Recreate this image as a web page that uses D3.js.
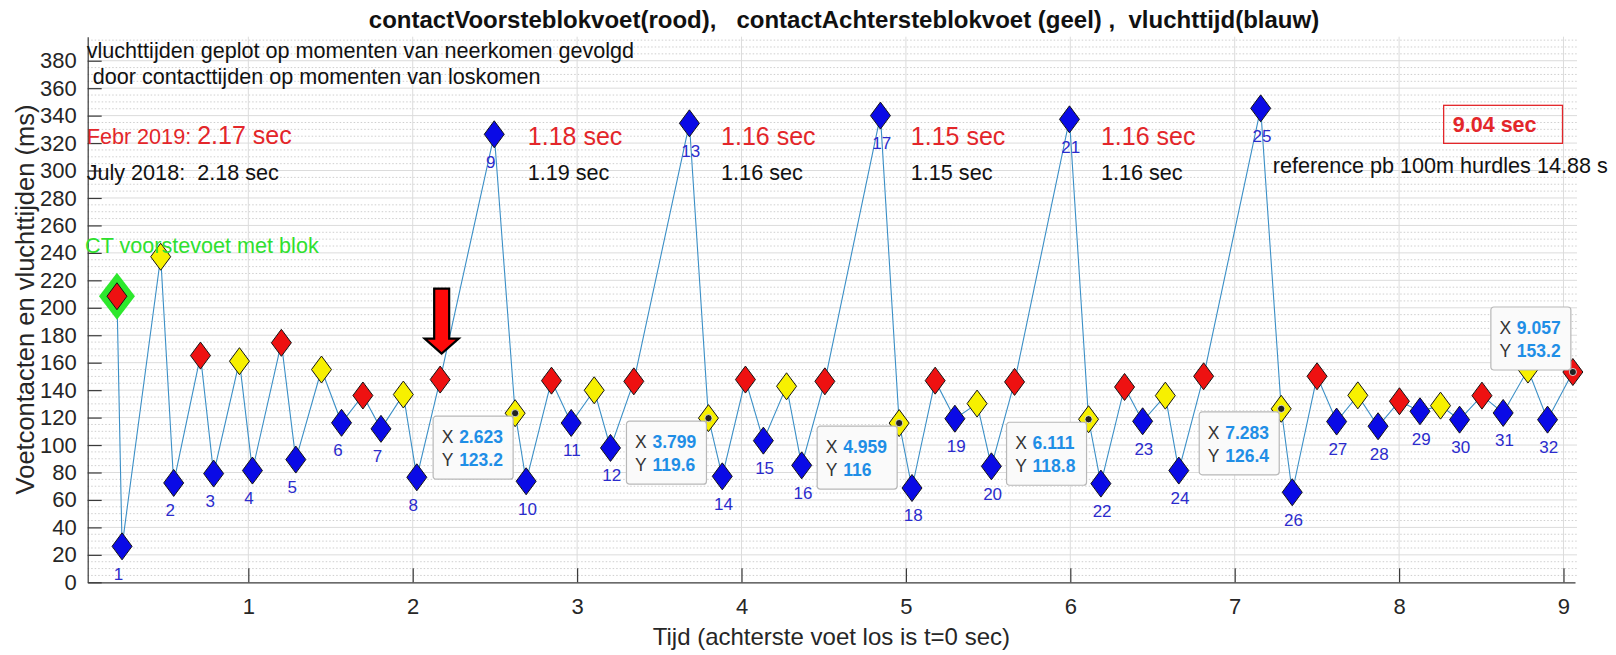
<!DOCTYPE html>
<html>
<head>
<meta charset="utf-8">
<script src="https://cdn.jsdelivr.net/npm/d3@7"></script>
<style>
  body { margin: 0; background: #fff; }
  svg { font-family: "Liberation Sans", Arial, Helvetica, sans-serif; }
  text { white-space: pre; }
</style>
</head>
<body>
<div id="chart"></div>
<script>
// contacttijd voorste voet (rood), in tijd (s) en ms
const redT = [0.201, 0.709, 1.201, 1.697, 2.167, 2.844, 3.345, 4.024, 4.507, 5.178, 5.661, 6.330, 6.811, 7.501, 8.002, 8.504, 9.057];
const redV = [208.4, 165.2, 174.5, 136.1, 147.7, 146.9, 146.4, 147.7, 146.4, 146.9, 146.0, 142.3, 150.1, 150.1, 131.9, 136.0, 153.2];

// contacttijd achterste voet (geel)
const yellowT = [0.467, 0.946, 1.445, 1.943, 2.623, 3.104, 3.799, 4.274, 4.959, 5.433, 6.111, 6.578, 7.283, 7.749, 8.252, 8.784];
const yellowV = [237.2, 161.1, 155.0, 136.8, 123.2, 139.9, 119.6, 142.8, 116, 130.2, 118.8, 136.0, 126.4, 136.2, 128.7, 155.0];

// vluchttijden (blauw)
const blueT = [0.232, 0.546, 0.789, 1.025, 1.289, 1.567, 1.807, 2.025, 2.496, 2.690, 2.964, 3.203, 3.683, 3.883, 4.133, 4.366,
               4.845, 5.037, 5.298, 5.520, 5.995, 6.186, 6.440, 6.660, 7.158, 7.350, 7.620, 7.872, 8.127, 8.368, 8.633, 8.903];
const blueV = [26.2, 72.4, 79.2, 81.4, 89.4, 116.2, 111.8, 76.5, 326.4, 73.6, 116.1, 97.9, 334.4, 77.2, 103.2, 85.2,
               340.0, 68.7, 119.2, 84.5, 337.3, 71.9, 117.3, 81.4, 345.3, 65.6, 117.1, 113.7, 124.6, 118.5, 123.4, 118.5];
const blueLabels = ["1","2","3","4","5","6","7","8","9","10","11","12","13","14","15","16",
                    "17","18","19","20","21","22","23","24","25","26","27","28","29","30","31","32"];

// datatips (index in yellow / red)
const tipYellow = [4, 6, 8, 10, 12];
const tipRed = [16];

// tijden per hordeinterval
const febrTimes = ["2.17 sec", "1.18 sec", "1.16 sec", "1.15 sec", "1.16 sec"];
const julyTimes = ["2.18 sec", "1.19 sec", "1.16 sec", "1.15 sec", "1.16 sec"];

const xTicks = [1, 2, 3, 4, 5, 6, 7, 8, 9];
const yTicks = [0, 20, 40, 60, 80, 100, 120, 140, 160, 180, 200, 220, 240, 260, 280, 300, 320, 340, 360, 380];
const yMinor = d3.range(0, 398, 5);

const W = 1616, H = 655;
const L = 87.7, R = 1575, T = 36.7, B = 582.3;
const FS = 21.6; // tekstgrootte annotaties

const svg = d3.select("#chart").append("svg")
    .attr("width", W).attr("height", H)
    .style("background", "#fff");

const x = d3.scaleLinear().domain([0.023, 9.07]).range([L, R]);
const y = d3.scaleLinear().domain([0, 397.5]).range([B, T]);

// grid
const grid = svg.append("g");
grid.selectAll(".minor").data(yMinor.filter(v => v % 20 !== 0)).enter().append("line")
    .attr("x1", L).attr("x2", R + 2).attr("y1", d => y(d)).attr("y2", d => y(d))
    .attr("stroke", "#cfcfcf").attr("stroke-width", 1).attr("stroke-dasharray", "1.5,2");
grid.selectAll(".majy").data(yTicks.filter(v => v > 0)).enter().append("line")
    .attr("x1", L).attr("x2", R + 2).attr("y1", d => y(d)).attr("y2", d => y(d))
    .attr("stroke", "#dcdcdc").attr("stroke-width", 1);
grid.selectAll(".majx").data(xTicks).enter().append("line")
    .attr("x1", d => x(d)).attr("x2", d => x(d)).attr("y1", T).attr("y2", B)
    .attr("stroke", "#dcdcdc").attr("stroke-width", 1);

// assen
const axX = svg.append("g").attr("transform", `translate(0,${B})`)
    .call(d3.axisBottom(x).tickValues(xTicks).tickFormat(d3.format("d"))
        .tickSizeInner(-14).tickSizeOuter(0).tickPadding(16.5));
const axY = svg.append("g").attr("transform", `translate(${L},0)`)
    .call(d3.axisLeft(y).tickValues(yTicks).tickFormat(d3.format("d"))
        .tickSizeInner(-14).tickSizeOuter(0).tickPadding(11));
[axX, axY].forEach(g => {
    g.selectAll("path, line").attr("stroke", "#3a3a3a").attr("stroke-width", 1.2);
    g.selectAll("text").attr("fill", "#262626").style("font-size", "22px")
        .style("font-family", "'Liberation Sans', Arial, sans-serif");
});

svg.append("text")
    .attr("transform", `translate(25,${(T + B) / 2 - 10}) rotate(-90)`)
    .attr("text-anchor", "middle").attr("dy", "0.35em")
    .attr("fill", "#262626").style("font-size", "25.5px")
    .text("Voetcontacten en vluchttijden (ms)");

svg.append("text")
    .attr("x", (L + R) / 2).attr("y", 637).attr("dy", "0.35em")
    .attr("text-anchor", "middle").attr("fill", "#262626").style("font-size", "24px")
    .text("Tijd (achterste voet los is t=0 sec)");

svg.append("text")
    .attr("x", 844).attr("y", 20).attr("dy", "0.35em")
    .attr("text-anchor", "middle").attr("fill", "#111").style("font-size", "24px")
    .style("font-weight", "bold")
    .text("contactVoorsteblokvoet(rood),   contactAchtersteblokvoet (geel) ,  vluchttijd(blauw)");

// lijn door alle punten in tijdsvolgorde
const allPts = [];
redT.forEach((t, i) => allPts.push([t, redV[i]]));
yellowT.forEach((t, i) => allPts.push([t, yellowV[i]]));
blueT.forEach((t, i) => allPts.push([t, blueV[i]]));
allPts.sort((a, b) => a[0] - b[0]);

svg.append("path")
    .datum(allPts)
    .attr("fill", "none").attr("stroke", "#3b8fc6").attr("stroke-width", 1.1)
    .attr("d", d3.line().x(d => x(d[0])).y(d => y(d[1])));

// markers
const dia = (w, h) => `M0,${-h}L${w},0L0,${h}L${-w},0Z`;

svg.append("path")
    .attr("transform", `translate(${x(redT[0])},${y(redV[0])})`)
    .attr("d", dia(18, 23.5)).attr("fill", "#2de82d");

function markers(ts, vs, fill) {
    svg.append("g").selectAll("path").data(ts).enter().append("path")
        .attr("transform", (d, i) => `translate(${x(d)},${y(vs[i])})`)
        .attr("d", dia(10, 13.5))
        .attr("fill", fill).attr("stroke", "#151515").attr("stroke-width", 1);
}
markers(redT, redV, "#ee1111");
markers(yellowT, yellowV, "#f7f000");
markers(blueT, blueV, "#0a0ae6");

svg.append("g").selectAll("text").data(blueT).enter().append("text")
    .attr("x", d => x(d - 0.05))
    .attr("y", (d, i) => y(blueV[i] - 20))
    .attr("dy", "0.35em")
    .attr("fill", "#2b2bcc").style("font-size", "17px")
    .text((d, i) => blueLabels[i]);

// teksten
const note = (tx, ty, str, size, color, weight) => svg.append("text")
    .attr("x", tx).attr("y", ty).attr("dy", "0.35em")
    .attr("fill", color).style("font-size", size + "px")
    .style("font-weight", weight || "normal").text(str);

note(x(0.017), y(387.8), "vluchttijden geplot op momenten van neerkomen gevolgd", FS, "#111");
note(x(0.017), y(368.4), " door contacttijden op momenten van loskomen", FS, "#111");
note(x(0.007), y(245.7), "CT voorstevoet met blok", FS, "#2fe02f");

const febr = note(x(0.017), y(325), "Febr 2019: ", FS, "#e3262a");
febr.append("tspan").style("font-size", "25px").text(febrTimes[0]);
note(x(0.017), y(298.4), "July 2018:  " + julyTimes[0], FS, "#111");

const segT = [2.70, 3.876, 5.03, 6.186];
segT.forEach((t, i) => {
    note(x(t), y(325), febrTimes[i + 1], 25, "#e3262a");
    note(x(t), y(298.4), julyTimes[i + 1], FS, "#111");
});

note(x(7.232), y(303.5), "reference pb 100m hurdles 14.88 s", FS, "#111");

svg.append("rect")
    .attr("x", x(8.271)).attr("y", y(347.5))
    .attr("width", x(8.994) - x(8.271)).attr("height", y(319.8) - y(347.5))
    .attr("fill", "none").attr("stroke", "#e3262a").attr("stroke-width", 1.3);
note(x(8.327), y(333.5), "9.04 sec", 21.5, "#e3262a", "bold");

// rode pijl boven contact voor horde 1
const ax0 = x(redT[4]) + 1.5, ay0 = y(redV[4]) - 26;
svg.append("path")
    .attr("d", `M${ax0},${ay0}L${ax0 - 17},${ay0 - 15}L${ax0 - 7.5},${ay0 - 15}L${ax0 - 7.5},${ay0 - 65}` +
               `L${ax0 + 7.5},${ay0 - 65}L${ax0 + 7.5},${ay0 - 15}L${ax0 + 17},${ay0 - 15}Z`)
    .attr("fill", "#ff0a0a").attr("stroke", "#000").attr("stroke-width", 2.2)
    .attr("stroke-linejoin", "miter");

// datatips
function datatip(tx, ty, above) {
    const px = x(tx), py = y(ty);
    const bx = px - 82, by = above ? py - 65 : py + 3;
    svg.append("circle").attr("cx", px).attr("cy", py).attr("r", 3.6)
        .attr("fill", "#222").attr("stroke", "#eee").attr("stroke-width", 0.8);
    const g = svg.append("g").attr("transform", `translate(${bx},${by})`);
    g.append("rect").attr("width", 80).attr("height", 63).attr("rx", 3)
        .attr("fill", "#fafafa").attr("stroke", "#b8b8b8").attr("stroke-width", 1.2);
    [["X", tx], ["Y", ty]].forEach((p, i) => {
        g.append("text").attr("x", 8.6).attr("y", 21 + i * 22.7).attr("dy", "0.35em")
            .attr("fill", "#333").style("font-size", "17.5px").text(p[0]);
        g.append("text").attr("x", 26).attr("y", 21 + i * 22.7).attr("dy", "0.35em")
            .attr("fill", "#1f8ee6").style("font-size", "17.5px").style("font-weight", "bold")
            .text(String(p[1]));
    });
}
tipYellow.forEach(i => datatip(yellowT[i], yellowV[i], false));
tipRed.forEach(i => datatip(redT[i], redV[i], true));
</script>
</body>
</html>
